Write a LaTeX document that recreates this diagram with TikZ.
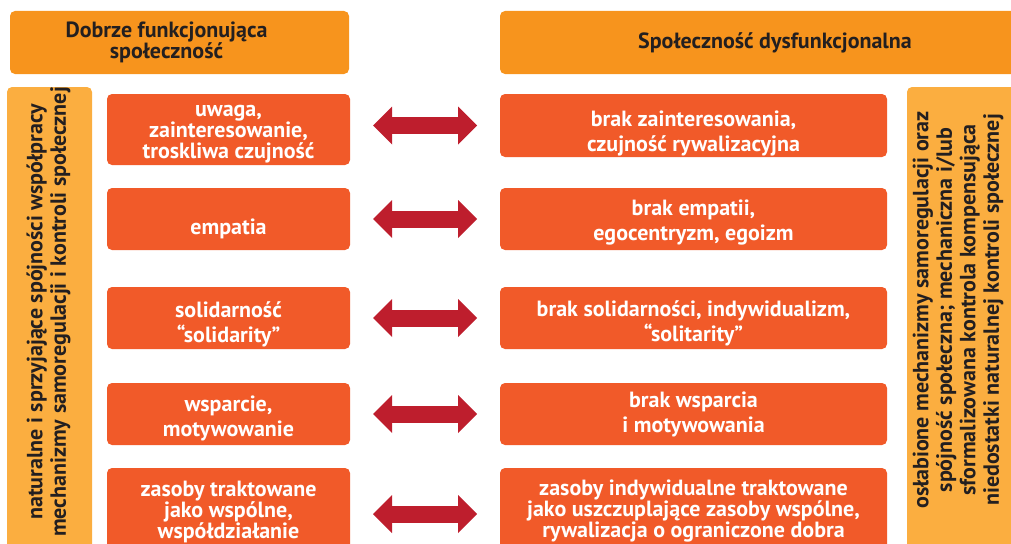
\documentclass[tikz,border=0pt]{standalone}
\usepackage{fontspec}
\setmainfont{PT Sans}
\usetikzlibrary{arrows.meta}
\definecolor{headorange}{RGB}{247,148,29}
\definecolor{barorange}{RGB}{251,174,64}
\definecolor{boxorange}{RGB}{241,90,41}
\definecolor{arrowred}{RGB}{190,30,45}
\definecolor{darktext}{RGB}{35,31,32}
\begin{document}
\begin{tikzpicture}[x=1pt, y=-1pt,
    every node/.style={inner sep=0pt, outer sep=0pt, align=center},
    headbox/.style={fill=headorange, rounded corners=5pt, minimum height=63pt},
    headtext/.style={text=darktext, font=\bfseries\fontsize{22}{20}\selectfont},
    sidebar/.style={fill=barorange, rounded corners=5pt},
    sidetext/.style={rotate=90, text=darktext, font=\bfseries\fontsize{22}{23.5}\selectfont},
    goodbox/.style={fill=boxorange, rounded corners=5pt, minimum width=243pt},
    badbox/.style={goodbox, minimum width=387pt},
    boxtext/.style={text=white, font=\bfseries\fontsize{22}{25}\selectfont},
    threelines/.style={font=\bfseries\fontsize{22}{21}\selectfont},
    fatarrow/.style={draw=arrowred, line width=17pt, shorten <=23pt, shorten >=23pt,
        {Triangle[length=19pt, width=38pt, line width=0pt]}-{Triangle[length=19pt, width=38pt, line width=0pt]}}]
    \useasboundingbox (0,0) rectangle (1011,543);
    \clip (0,0) rectangle (1011,543);
    % headers
    \node[headbox, minimum width=339pt] (goodhead) at (179.5,42.5) {};
    \node[headbox, minimum width=550pt] (badhead) at (775,42.5) {};
    \node[headtext] (goodheadtext) at ([xshift=-13pt]goodhead.center) {Dobrze funkcjonująca\\społeczność};
    \node[headtext] (badheadtext) at (badhead.center) {Społeczność dysfunkcjonalna};
    % side bars
    \node[sidebar, minimum width=85pt, minimum height=480pt] (goodbar) at (49.5,327) {};
    \node[sidebar, minimum width=110pt, minimum height=480pt] (badbar) at (962,327) {};
    \node[sidetext] (goodbartext) at (48.5,312) {naturalne i sprzyjające spójności współpracy\\mechanizmy samoregulacji i kontroli społecznej};
    \node[sidetext] (badbartext) at (958,310) {osłabione mechanizmy samoregulacji oraz\\spójność społeczna; mechaniczna i/lub\\sformalizowana kontrola kompensująca\\niedostatki naturalnej kontroli społecznej};
    % left column
    \node[goodbox, minimum height=71pt] (good1) at (228.5,129.5) {};
    \node[goodbox, minimum height=62pt] (good2) at (228.5,219) {};
    \node[goodbox, minimum height=62pt] (good3) at (228.5,318) {};
    \node[goodbox, minimum height=62pt] (good4) at (228.5,414) {};
    \node[goodbox, minimum height=92pt] (good5) at (228.5,514) {};
    \node[boxtext, threelines] (good1text) at ([yshift=-5pt]good1.center) {uwaga,\\zainteresowanie,\\troskliwa czujność};
    \node[boxtext] (good2text) at ([yshift=-10pt]good2.center) {empatia};
    \node[boxtext] (good3text) at ([yshift=-6pt]good3.center) {solidarność\\“solidarity”};
    \node[boxtext] (good4text) at ([yshift=-4pt]good4.center) {wsparcie,\\motywowanie};
    \node[boxtext, threelines] (good5text) at ([yshift=2pt]good5.center) {zasoby traktowane\\jako wspólne,\\współdziałanie};
    % right column
    \node[badbox, minimum height=63pt] (bad1) at (693.5,125.5) {};
    \node[badbox, minimum height=62pt] (bad2) at (693.5,219) {};
    \node[badbox, minimum height=62pt] (bad3) at (693.5,318) {};
    \node[badbox, minimum height=62pt] (bad4) at (693.5,414) {};
    \node[badbox, minimum height=92pt] (bad5) at (693.5,514) {};
    \node[boxtext] (bad1text) at ([yshift=-8pt]bad1.center) {brak zainteresowania,\\czujność rywalizacyjna};
    \node[boxtext] (bad2text) at ([yshift=-4pt]bad2.center) {brak empatii,\\egocentryzm, egoizm};
    \node[boxtext] (bad3text) at ([yshift=-5pt]bad3.center) {brak solidarności, indywidualizm,\\“solitarity”};
    \node[boxtext] (bad4text) at (bad4.center) {brak wsparcia\\i motywowania};
    \node[boxtext, threelines] (bad5text) at ([yshift=3pt]bad5.center) {zasoby indywidualne traktowane\\jako uszczuplające zasoby wspólne,\\rywalizacja o ograniczone dobra};
    % arrows
    \foreach \i in {1,...,5}
        \draw[fatarrow] (bad\i.west -| good\i.east) -- (bad\i.west);
\end{tikzpicture}
\end{document}
